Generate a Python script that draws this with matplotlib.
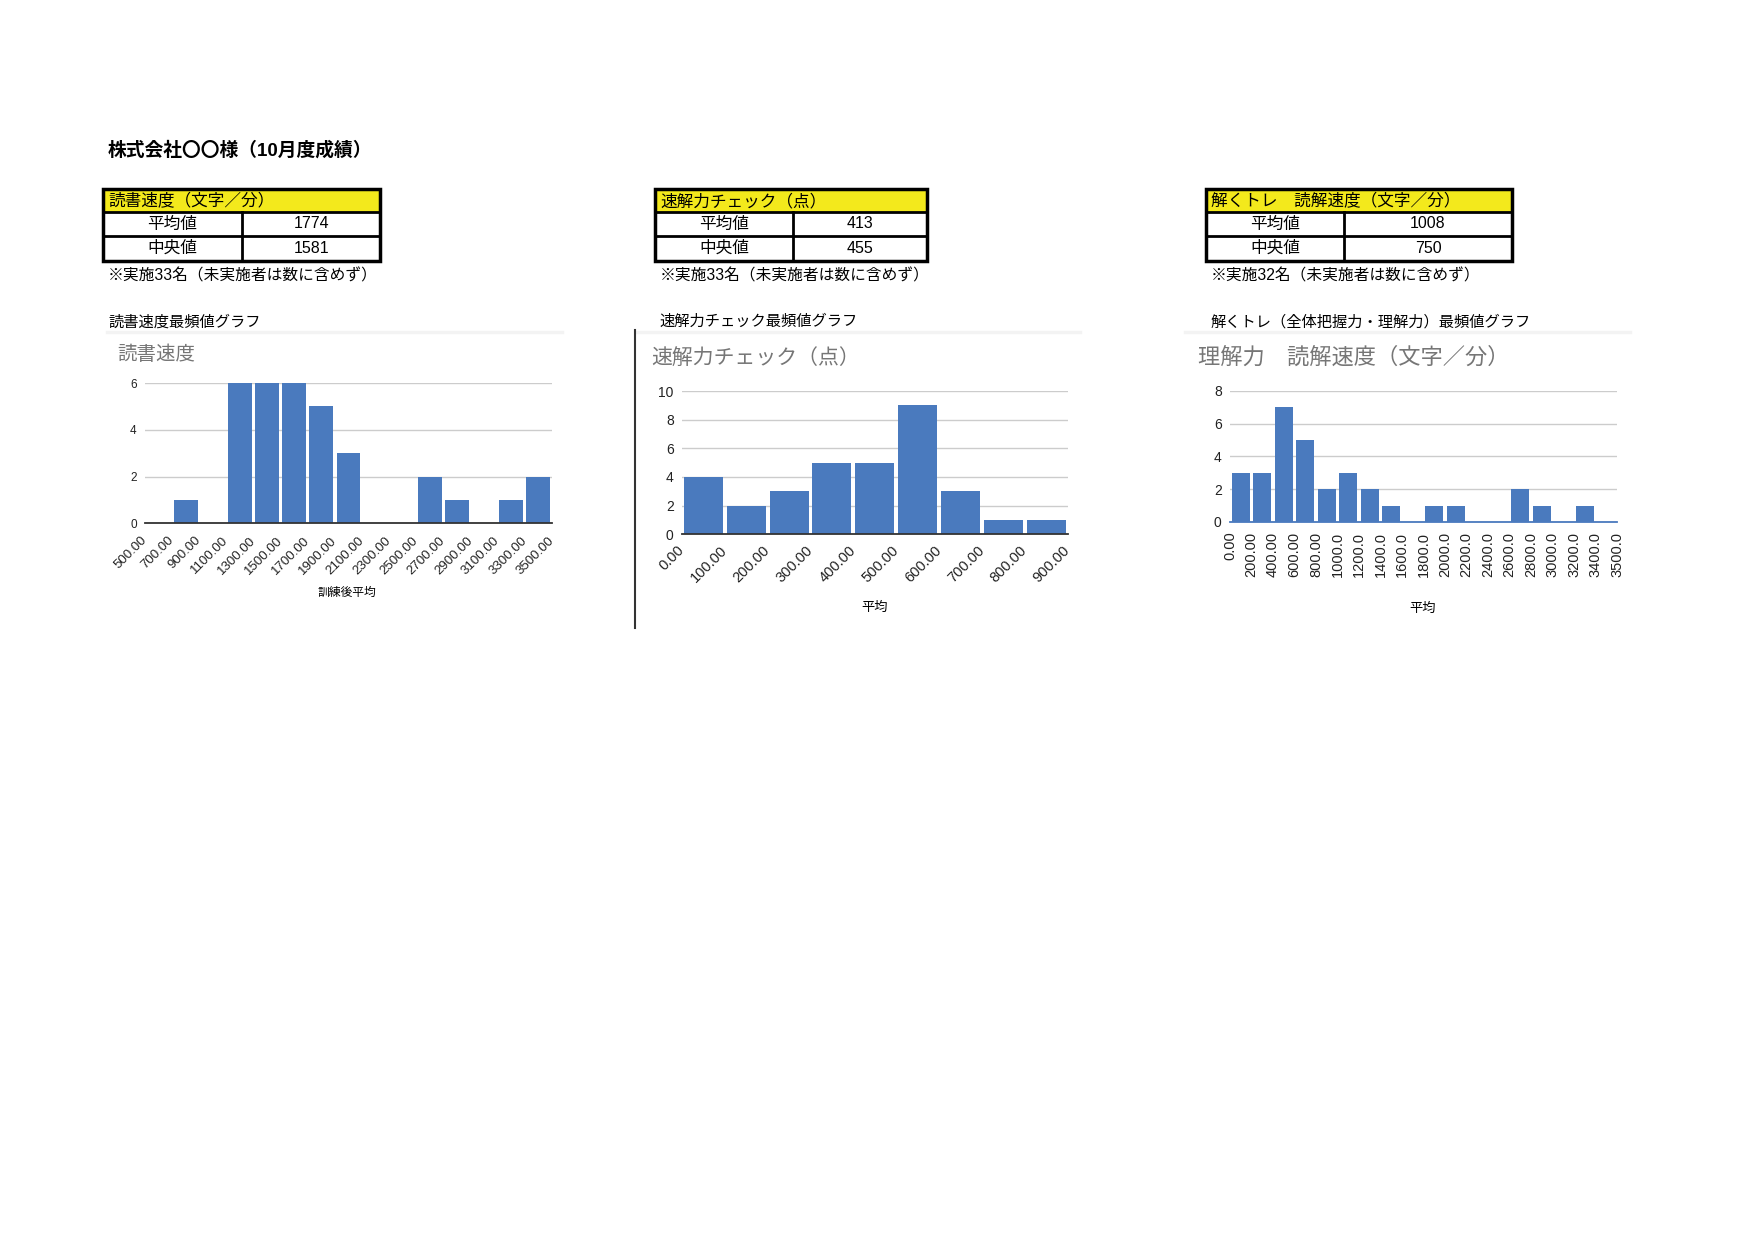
import matplotlib
matplotlib.use('Agg')
import matplotlib.pyplot as plt
from matplotlib.patches import Rectangle
import numpy as np

plt.rcParams['font.family'] = ['Liberation Sans', 'Noto Sans CJK JP']

W, H = 1755, 1240
BLUE = '#4a7abe'
GREY_TITLE = '#767676'

#### page texts
page_title = '株式会社〇〇様（10月度成績）'
table_titles = ['読書速度（文字／分）', '速解力チェック（点）', '解くトレ　読解速度（文字／分）']
row_labels = ['平均値', '中央値']
mean_vals = ['1774', '413', '1008']
median_vals = ['1581', '455', '750']
notes = ['※実施33名（未実施者は数に含めず）',
         '※実施33名（未実施者は数に含めず）',
         '※実施32名（未実施者は数に含めず）']
graph_captions = ['読書速度最頻値グラフ', '速解力チェック最頻値グラフ',
                  '解くトレ（全体把握力・理解力）最頻値グラフ']

#### chart 1: reading speed
read_title = '読書速度'
read_xlabel = '訓練後平均'
read_edges = ['500.00', '700.00', '900.00', '1100.00', '1300.00', '1500.00', '1700.00',
              '1900.00', '2100.00', '2300.00', '2500.00', '2700.00', '2900.00', '3100.00',
              '3300.00', '3500.00']
read_counts = [0, 1, 0, 6, 6, 6, 5, 3, 0, 0, 2, 1, 0, 1, 2]

#### chart 2: quick check
check_title = '速解力チェック（点）'
check_xlabel = '平均'
check_edges = ['0.00', '100.00', '200.00', '300.00', '400.00', '500.00', '600.00',
               '700.00', '800.00', '900.00']
check_counts = [4, 2, 3, 5, 5, 9, 3, 1, 1]

#### chart 3: comprehension speed
comp_title = '理解力　読解速度（文字／分）'
comp_xlabel = '平均'
comp_edges = ['0.00', '200.00', '400.00', '600.00', '800.00', '1000.0', '1200.0', '1400.0',
              '1600.0', '1800.0', '2000.0', '2200.0', '2400.0', '2600.0', '2800.0',
              '3000.0', '3200.0', '3400.0', '3500.0']
comp_counts = [3, 3, 7, 5, 2, 3, 2, 1, 0, 1, 1, 0, 0, 2, 1, 0, 1, 0]


fig = plt.figure(figsize=(W / 100, H / 100), dpi=100)
fig.patch.set_facecolor('white')

# background axes in pixel coordinates
bg = fig.add_axes([0, 0, 1, 1])
bg.set_xlim(0, W)
bg.set_ylim(H, 0)
bg.axis('off')

bg.text(108, 150, page_title, fontsize=13.5, fontweight='bold', va='center', ha='left')

# summary tables: (left, divider, right)
tables = [(103, 242, 380.5), (655, 793.5, 927), (1206, 1344, 1512)]
top, head_b, mid_b, bot = 188.5, 212, 236, 260.5
for i, (l, d, r) in enumerate(tables):
    bg.add_patch(Rectangle((l, top), r - l, head_b - top, facecolor='#f3e91c', edgecolor='none'))
    bg.add_patch(Rectangle((l, top), r - l, bot - top, facecolor='none', edgecolor='black', lw=2.5))
    bg.plot([l, r], [head_b, head_b], color='black', lw=2)
    bg.plot([l, r], [mid_b, mid_b], color='black', lw=2)
    bg.plot([d, d], [head_b, bot], color='black', lw=2)
    bg.text(l + 5, (top + head_b) / 2 + 1, table_titles[i], fontsize=12, va='center', ha='left')
    bg.text((l + d) / 2, (head_b + mid_b) / 2, row_labels[0], fontsize=12, va='center', ha='center')
    bg.text((l + d) / 2, (mid_b + bot) / 2, row_labels[1], fontsize=12, va='center', ha='center')
    bg.text((d + r) / 2, (head_b + mid_b) / 2, mean_vals[i], fontsize=11.5, va='center', ha='center')
    bg.text((d + r) / 2, (mid_b + bot) / 2, median_vals[i], fontsize=11.5, va='center', ha='center')
    bg.text(l + 5, 276, notes[i], fontsize=11.3, va='center', ha='left')

# captions above the charts and the faint frame lines
caption_x = [108, 659, 1211]
frame_lines = [(107, 562), (637, 1080), (1185, 1630)]
for i in range(3):
    bg.text(caption_x[i], 322, graph_captions[i], fontsize=11, va='center', ha='left')
    bg.plot(frame_lines[i], [332, 332], color='#f3f3f3', lw=2.5)
bg.plot([635.5, 635.5], [330, 628], color='#333333', lw=1.5)


def ax_at(l, t, r, b):
    return fig.add_axes([l / W, 1 - b / H, (r - l) / W, (b - t) / H])


def draw_hist(ax, counts, edges, ymax, width, fs, yfs, rot, base_color, pad):
    x = np.arange(len(counts)) + 0.5
    ax.bar(x, counts, width=width, color=BLUE, zorder=3)
    ax.set_xlim(0, len(counts))
    ax.set_ylim(0, ymax)
    ax.set_yticks(range(0, ymax + 1, 2))
    ax.set_xticks(range(len(edges)))
    if rot == 45:
        ax.set_xticklabels(edges, rotation=45, ha='right', va='center', rotation_mode='anchor')
    else:
        ax.set_xticklabels(edges, rotation=90, ha='center', va='top')
    ax.grid(axis='y', color='#cccccc', lw=1, zorder=0)
    ax.set_axisbelow(True)
    for s in ['top', 'right', 'left']:
        ax.spines[s].set_visible(False)
    ax.spines['bottom'].set_color(base_color)
    ax.spines['bottom'].set_linewidth(1.3)
    ax.spines['bottom'].set_zorder(4)
    ax.tick_params(length=0, colors='#222222')
    ax.tick_params(axis='x', pad=pad, labelsize=fs)
    ax.tick_params(axis='y', pad=6, labelsize=yfs)
    ax.patch.set_alpha(0)


ax1 = ax_at(145, 383, 552, 523.3)
draw_hist(ax1, read_counts, read_edges, 6, 0.88, 9.5, 8.5, 45, '#333333', 11)
bg.text(117, 355, read_title, fontsize=14, color=GREY_TITLE, va='center', ha='left')
bg.text(347, 593, read_xlabel, fontsize=8.5, va='center', ha='center')

ax2 = ax_at(682, 391, 1067.5, 534.3)
draw_hist(ax2, check_counts, check_edges, 10, 0.91, 10.5, 10, 45, '#333333', 10)
bg.text(651, 358, check_title, fontsize=15, color=GREY_TITLE, va='center', ha='left')
bg.text(875, 608, check_xlabel, fontsize=9.5, va='center', ha='center')

ax3 = ax_at(1230, 391, 1617, 522)
draw_hist(ax3, comp_counts, comp_edges, 8, 0.84, 10.5, 10, 90, BLUE, 7)
bg.text(1198, 358, comp_title, fontsize=16, color=GREY_TITLE, va='center', ha='left')
bg.text(1423, 609, comp_xlabel, fontsize=9.5, va='center', ha='center')

fig.savefig('out.png', dpi=100, facecolor='white')
